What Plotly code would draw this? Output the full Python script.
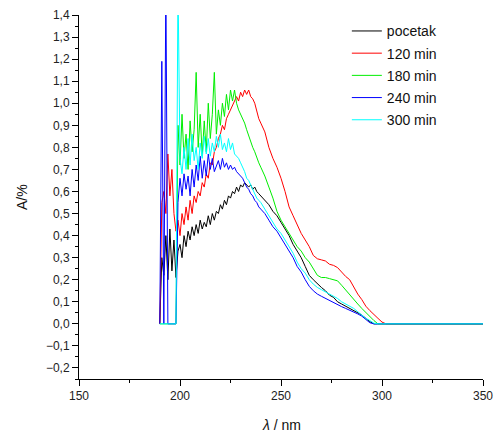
import plotly.graph_objects as go

wavelength = list(range(190, 241)) + list(range(242, 303, 2)) + [350]

pocetak = [0, 0.30, 0.22, 0.40, 0.20, 0.43, 0.24, 0.38, 0.21, 0.33,
           0.36, 0.30, 0.40, 0.35, 0.42, 0.38, 0.44, 0.40, 0.45, 0.41,
           0.47, 0.43, 0.46, 0.44, 0.49, 0.45, 0.50, 0.47, 0.51, 0.50,
           0.54, 0.52, 0.56, 0.54, 0.58, 0.57, 0.60, 0.59, 0.62, 0.60,
           0.63, 0.62, 0.64, 0.63, 0.62, 0.63, 0.61, 0.62, 0.60, 0.59,
           0.58,
           0.56, 0.54, 0.51, 0.49, 0.46, 0.43, 0.40, 0.36, 0.33, 0.30,
           0.26, 0.22, 0.20, 0.18, 0.165, 0.15, 0.13, 0.12, 0.10, 0.09,
           0.08, 0.07, 0.06, 0.05, 0.04, 0.025, 0.01, 0.0, 0.0, 0.0,
           0.0,
           0.0]

min120 = [0, 0.55, 0.60, 0.50, 0.77, 0.58, 0.70, 0.50, 0.42, 0.47,
          0.40, 0.50, 0.45, 0.53, 0.47, 0.56, 0.50, 0.58, 0.55, 0.60,
          0.58, 0.64, 0.62, 0.68, 0.66, 0.73, 0.72, 0.78, 0.80, 0.84,
          0.86, 0.90, 0.88, 0.93, 0.95, 0.97, 0.99, 1.01, 1.03, 1.01,
          1.05, 1.03, 1.06, 1.04, 1.06, 1.03, 1.02, 1.00, 0.96, 0.93,
          0.91,
          0.87, 0.80, 0.75, 0.71, 0.66, 0.60, 0.53, 0.49, 0.45, 0.41,
          0.38, 0.35, 0.31, 0.295, 0.29, 0.285, 0.27, 0.265, 0.255, 0.235,
          0.215, 0.20, 0.165, 0.135, 0.11, 0.08, 0.06, 0.04, 0.025, 0.008,
          0.0,
          0.0]

min180 = [0, 0, 0, 0, 0, 0, 0, 0, 0, 0.90,
          0.72, 0.95, 0.75, 0.86, 0.70, 0.92, 0.78, 0.88, 1.14, 0.80,
          0.95, 0.76, 0.92, 0.78, 1.00, 0.84, 0.95, 1.14, 0.86, 0.97,
          0.90, 1.00, 0.94, 1.04, 0.97, 1.06, 1.01, 1.06, 1.00, 0.97,
          0.95, 0.93, 0.91, 0.88, 0.85, 0.82, 0.80, 0.78, 0.75, 0.73,
          0.71,
          0.67, 0.62, 0.57, 0.51, 0.47, 0.44, 0.41, 0.38, 0.35, 0.33,
          0.30, 0.28, 0.25, 0.22, 0.21, 0.21, 0.205, 0.20, 0.195, 0.175,
          0.155, 0.13, 0.11, 0.09, 0.07, 0.05, 0.035, 0.015, 0.0, 0.0,
          0.0,
          0.0]

min240 = [0, 1.19, 0, 1.55, 0, 0, 0, 0, 0, 0.55,
          0.66, 0.58, 0.68, 0.61, 0.67, 0.58, 0.70, 0.62, 0.72, 0.65,
          0.76, 0.66, 0.74, 0.67, 0.77, 0.70, 0.75, 0.69, 0.72, 0.74,
          0.70, 0.75, 0.71, 0.73, 0.70, 0.72, 0.70, 0.71, 0.69, 0.68,
          0.67, 0.66, 0.64, 0.62, 0.61, 0.59, 0.58, 0.56, 0.55, 0.53,
          0.52,
          0.50, 0.47, 0.44, 0.42, 0.39, 0.365, 0.33, 0.30, 0.26, 0.235,
          0.20, 0.17, 0.15, 0.135, 0.125, 0.115, 0.105, 0.095, 0.085, 0.078,
          0.07, 0.062, 0.055, 0.045, 0.035, 0.02, 0.005, 0.0, 0.0, 0.0,
          0.0,
          0.0]

min300 = [0, 0, 0, 0, 0, 0, 0, 0, 0, 1.55,
          0.75, 0.68, 0.80, 0.70, 0.84, 0.72, 0.86, 0.74, 0.80, 0.70,
          0.82, 0.75, 0.85, 0.77, 0.84, 0.76, 0.82, 0.78, 0.85, 0.80,
          0.86, 0.79, 0.82, 0.78, 0.84, 0.79, 0.82, 0.77, 0.76, 0.75,
          0.73, 0.71, 0.69, 0.66, 0.65, 0.63, 0.61, 0.59, 0.57, 0.56,
          0.55,
          0.52, 0.49, 0.46, 0.43, 0.41, 0.38, 0.35, 0.32, 0.28, 0.25,
          0.23, 0.20, 0.18, 0.165, 0.155, 0.145, 0.135, 0.125, 0.115, 0.10,
          0.09, 0.08, 0.07, 0.055, 0.04, 0.025, 0.015, 0.003, 0.0, 0.0,
          0.0,
          0.0]

series_names = ["pocetak", "120 min", "180 min", "240 min", "300 min"]
series_values = [pocetak, min120, min180, min240, min300]
series_colors = ["#000000", "#ff0000", "#00ee00", "#0000ff", "#00ffff"]

y_ticks = [round(-0.2 + 0.1 * i, 1) for i in range(17)]
x_ticks = [150, 200, 250, 300, 350]

fig = go.Figure()
for i, (name, vals, col) in enumerate(zip(series_names, series_values, series_colors)):
    fig.add_trace(go.Scatter(x=wavelength, y=vals, mode="lines", name=name,
                             legendgroup=f"g{i}",
                             line=dict(color=col, width=1)))

font_family = "Liberation Sans, Arial, sans-serif"
fig.update_layout(
    width=494, height=435,
    margin=dict(l=79, r=11, t=15, b=56, autoexpand=False),
    paper_bgcolor="white", plot_bgcolor="white",
    separators=",.",
    font=dict(family=font_family, size=12, color="#222222"),
    showlegend=True,
    legend=dict(x=0.663, y=0.999, xanchor="left", yanchor="top",
                bgcolor="rgba(0,0,0,0)", font=dict(size=14, color="#111111"),
                traceorder="grouped", tracegroupgap=1),
    xaxis=dict(range=[150, 350], tickvals=x_ticks, ticks="outside", ticklen=6,
               tickwidth=1, tickcolor="#000", showline=True, linecolor="#000",
               linewidth=1, showgrid=False, zeroline=False, automargin=False,
               minor=dict(dtick=25, tick0=150, ticks="outside", ticklen=3,
                          tickcolor="#000", showgrid=False),
               tickfont=dict(size=12, color="#222222")),
    yaxis=dict(range=[-0.25, 1.4], tickvals=y_ticks, tickformat=".1f",
               ticks="outside", ticklen=6, tickwidth=1, tickcolor="#000",
               showline=True, linecolor="#000", linewidth=1, showgrid=False,
               zeroline=False, automargin=False,
               minor=dict(dtick=0.05, tick0=0, ticks="outside", ticklen=3,
                          tickcolor="#000", showgrid=False),
               tickfont=dict(size=12, color="#222222")),
    annotations=[
        dict(text="<i>λ</i> / nm", xref="paper", yref="paper", x=0.5, y=0,
             xanchor="center", yanchor="middle", yshift=-46, showarrow=False,
             font=dict(size=14, color="#111111")),
        dict(text="A/%", xref="paper", yref="paper", x=0, y=0.5,
             xanchor="center", yanchor="middle", xshift=-57, textangle=-90,
             showarrow=False, font=dict(size=14, color="#111111")),
    ],
)

fig.write_html("out.html", config={"displayModeBar": False},
               post_script="document.body.style.margin='0';")
